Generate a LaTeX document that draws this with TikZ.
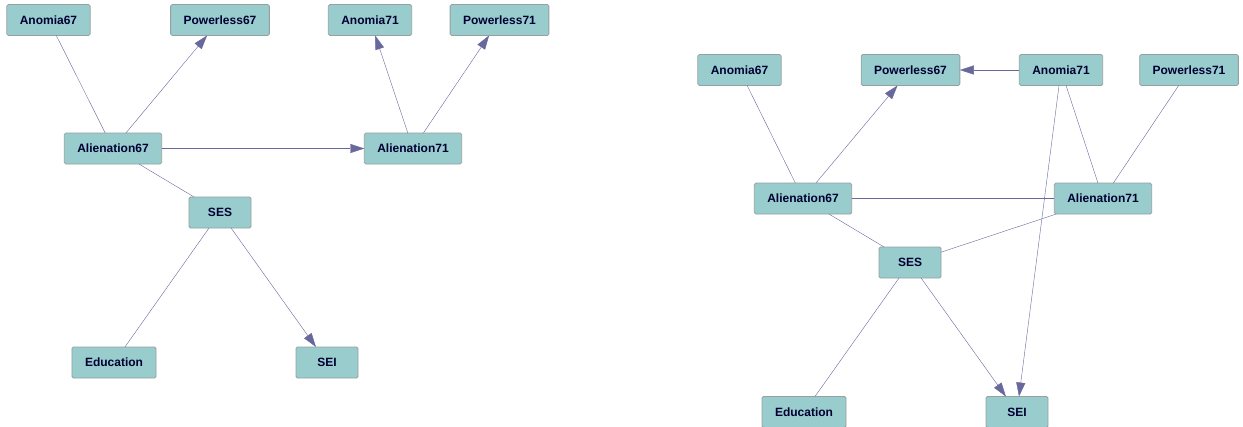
\documentclass[tikz,border=0pt]{standalone}
\usepackage{fontspec}
\setmainfont{Liberation Sans}
\usepackage{tikz}
\usetikzlibrary{arrows.meta}% filled triangle tips
\definecolor{boxfill}{RGB}{153,204,204}
\definecolor{boxline}{RGB}{150,160,160}
\definecolor{linkcol}{RGB}{104,104,156}
\definecolor{labcol}{RGB}{0,0,51}
\tikzset{every node/.style={font=\fontsize{12}{14}\selectfont\bfseries, text=labcol},
  var/.style={draw=boxline, fill=boxfill, rounded corners=1.5pt, thick,
    minimum width=62pt, minimum height=31pt, inner xsep=13pt, outer sep=0pt},
  lnk/.style={linkcol, thin},
  arr/.style={linkcol, thin, -{Triangle[length=14pt,width=9pt]}}}

\begin{document}
\begin{tikzpicture}[x=1pt, y=-1pt]
      \useasboundingbox (0,0) rectangle (1243,426);
      % first model
      \node[var] (la67) at (48.5,20) {Anomia67};
      \node[var] (lp67) at (220,20) {Powerless67};
      \node[var] (la71) at (370,20) {Anomia71};
      \node[var] (lp71) at (499.5,20) {Powerless71};
      \node[var] (lal67) at (113,148.5) {Alienation67};
      \node[var] (lal71) at (413,148.5) {Alienation71};
      \node[var] (lses) at (220,212.5) {SES};
      \node[var] (ledu) at (114,362.5) {Education};
      \node[var] (lsei) at (327,362.5) {SEI};
      \draw[lnk] (la67) -- (lal67);
      \draw[arr] (lal67) -- (lp67);
      \draw[arr] (lal71) -- (la71);
      \draw[arr] (lal71) -- (lp71);
      \draw[arr] (lal67) -- (lal71);
      \draw[lnk] (lal67) -- (lses);
      \draw[lnk] (lses) -- (ledu);
      \draw[arr] (lses) -- (lsei);
      % second model
      \node[var] (ra67) at (739.5,70) {Anomia67};
      \node[var] (rp67) at (910.5,70) {Powerless67};
      \node[var] (ra71) at (1061,70) {Anomia71};
      \node[var] (rp71) at (1189,70) {Powerless71};
      \node[var] (ral67) at (803,198.5) {Alienation67};
      \node[var] (ral71) at (1103,198.5) {Alienation71};
      \node[var] (rses) at (910,262.5) {SES};
      \node[var] (redu) at (804,412) {Education};
      \node[var] (rsei) at (1017,412) {SEI};
      \draw[lnk] (ra67) -- (ral67);
      \draw[arr] (ral67) -- (rp67);
      \draw[arr] (ra71) -- (rp67);
      \draw[arr] (ra71) -- (rsei);
      \draw[lnk] (ra71) -- (ral71);
      \draw[lnk] (rp71) -- (ral71);
      \draw[lnk] (ral67) -- (ral71);
      \draw[lnk] (ral67) -- (rses);
      \draw[lnk] (ral71) -- (rses);
      \draw[lnk] (rses) -- (redu);
      \draw[arr] (rses) -- (rsei);
    \end{tikzpicture}
\end{document}
